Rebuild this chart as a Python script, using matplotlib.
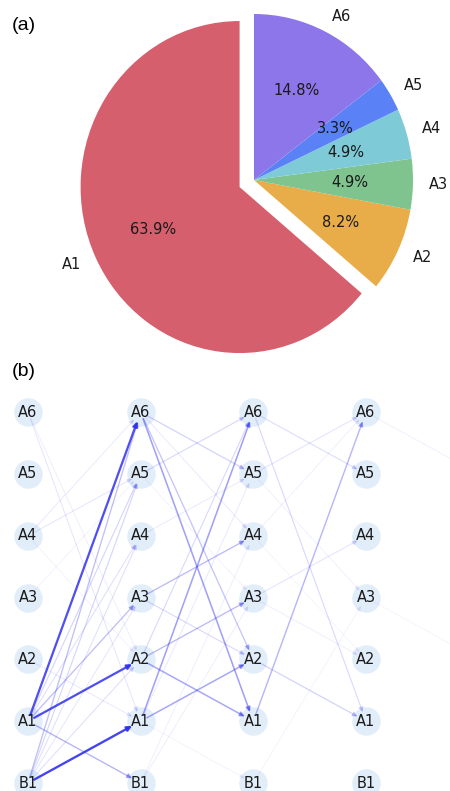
import matplotlib
matplotlib.use("Agg")
import matplotlib.pyplot as plt
from matplotlib.patches import FancyArrowPatch

# panel (a): pie shares
pie_labels = ["A1", "A2", "A3", "A4", "A5", "A6"]
pie_counts = [39, 5, 3, 3, 2, 9]
pie_colors = ["#d65f6d", "#e8ad49", "#7fc48e", "#7ecbd7", "#5a82f6", "#8d76e9"]
pie_explode = [0.1, 0, 0, 0, 0, 0]

# panel (b): layered graph
node_rows = ["B1", "A1", "A2", "A3", "A4", "A5", "A6"]
n_cols = 4

# (source, target, weight) per layer: column i -> column i+1
layer0 = [
    ("A1", "A6", 0.85), ("A1", "A2", 0.85), ("B1", "A1", 0.9),
    ("A1", "B1", 0.35), ("A1", "A3", 0.3), ("A1", "A5", 0.2), ("A1", "A4", 0.15),
    ("B1", "A6", 0.3), ("B1", "A5", 0.2), ("B1", "A4", 0.15), ("B1", "A3", 0.12),
    ("B1", "A2", 0.15), ("A4", "A6", 0.1), ("A4", "A5", 0.12), ("A6", "A1", 0.12),
    ("A6", "A2", 0.08), ("A2", "A1", 0.1), ("A3", "A5", 0.06), ("A4", "A2", 0.06),
]
layer1 = [
    ("A6", "A1", 0.45), ("A6", "A2", 0.28), ("A6", "A5", 0.22), ("A6", "A4", 0.1),
    ("A5", "A6", 0.18), ("A1", "A6", 0.45), ("A2", "A6", 0.18), ("A3", "A4", 0.32),
    ("A3", "A2", 0.18), ("A2", "A3", 0.32), ("A2", "A1", 0.42), ("A1", "A2", 0.42),
    ("A1", "A5", 0.1), ("B1", "A3", 0.08), ("B1", "A4", 0.08), ("A4", "A5", 0.1),
    ("A1", "B1", 0.06), ("A5", "A3", 0.06),
]
layer2 = [
    ("A1", "A6", 0.35), ("A6", "A5", 0.16), ("A6", "A1", 0.18), ("A5", "A6", 0.13),
    ("A2", "A1", 0.22), ("A3", "A4", 0.13), ("B1", "A3", 0.06), ("A4", "A6", 0.07),
    ("A5", "A3", 0.07), ("A3", "A2", 0.08), ("A4", "A2", 0.05),
]
layer3 = [("A6", "A5", 0.07), ("A3", "A2", 0.05)]
layers = [layer0, layer1, layer2, layer3]

W, H = 450, 791
fig = plt.figure(figsize=(W / 100, H / 100), dpi=100)

# ---- (a) pie
top_h = 360
ax1 = fig.add_axes([0, 1 - top_h / H, 1, top_h / H])
ax1.pie(pie_counts, labels=pie_labels, colors=pie_colors, explode=pie_explode,
        startangle=90, autopct="%1.1f%%",
        textprops=dict(fontsize=10.5, color="#1a1a1a"))
cx, cy, rx, ry = 254, 180, 159, 166
ax1.set_aspect("auto")
ax1.set_xlim(-cx / rx, (W - cx) / rx)
ax1.set_ylim(-(top_h - cy) / ry, cy / ry)
fig.text(12 / W, 1 - 25 / H, "(a)", fontsize=14, family="Liberation Sans", va="center")

# ---- (b) graph
ax2 = fig.add_axes([0, 0, 1, (H - top_h) / H])
col_px, col_dx = 28, 112.67
row_px, row_dy = 783, 61.8
ax2.set_xlim(-col_px / col_dx, (W - col_px) / col_dx)
ax2.set_ylim(-(H - row_px) / row_dy, (row_px - top_h) / row_dy)
ax2.axis("off")
fig.text(12 / W, 1 - 372 / H, "(b)", fontsize=14, family="Liberation Sans", va="center")

ypos = {name: i for i, name in enumerate(node_rows)}
for c in range(n_cols):
    for name in node_rows:
        ax2.scatter(c, ypos[name], s=420, color="#e1edf9", zorder=1, linewidths=0)
        ax2.text(c, ypos[name], name, ha="center", va="center", fontsize=10.5,
                 color="#1a1a1a", zorder=3)

for c, layer in enumerate(layers):
    for src, dst, w in layer:
        arr = FancyArrowPatch((c, ypos[src]), (c + 1, ypos[dst]),
                              arrowstyle="-|>", mutation_scale=7,
                              color="#3030f0", alpha=w, lw=0.6 + 1.2 * w,
                              shrinkA=5, shrinkB=7, zorder=2)
        ax2.add_patch(arr)

fig.savefig("out.png", dpi=100)
